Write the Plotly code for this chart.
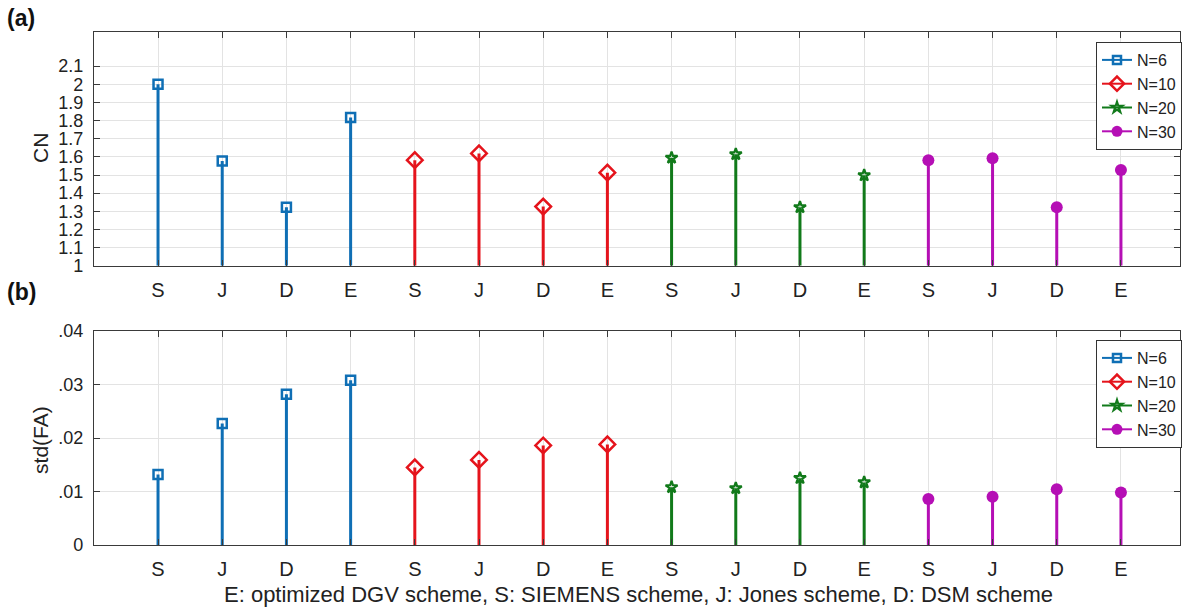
import plotly.graph_objects as go

# ---------------- data ----------------
schemes = ["S", "J", "D", "E"]
groups = ["N=6", "N=10", "N=20", "N=30"]
cn_n6 = [2.00, 1.577, 1.322, 1.817]
cn_n10 = [1.582, 1.619, 1.326, 1.513]
cn_n20 = [1.595, 1.614, 1.322, 1.498]
cn_n30 = [1.581, 1.592, 1.322, 1.527]
std_n6 = [0.0132, 0.0227, 0.0282, 0.0308]
std_n10 = [0.0145, 0.0159, 0.0186, 0.0188]
std_n20 = [0.0108, 0.0106, 0.0125, 0.0117]
std_n30 = [0.0086, 0.0090, 0.0104, 0.0098]
cn_ticks = [1, 1.1, 1.2, 1.3, 1.4, 1.5, 1.6, 1.7, 1.8, 1.9, 2, 2.1]
cn_ticktext = ["1", "1.1", "1.2", "1.3", "1.4", "1.5", "1.6", "1.7", "1.8", "1.9", "2", "2.1"]
std_ticks = [0, 0.01, 0.02, 0.03, 0.04]
std_ticktext = ["0", ".01", ".02", ".03", ".04"]
xlabel = "E: optimized DGV scheme, S: SIEMENS scheme, J: Jones scheme, D: DSM scheme"

cn_data = [cn_n6, cn_n10, cn_n20, cn_n30]
std_data = [std_n6, std_n10, std_n20, std_n30]

# ---------------- style ----------------
colors = ["#0f6fb5", "#e5141c", "#117a1a", "#b50fb5"]
symbols = ["square-open", "diamond-open", "star-open", "circle"]
msizes = [9, 12, 9, 12]
mlw = [2.5, 2.5, 2.2, 0]
FONT = "Liberation Sans Narrow, Liberation Sans, sans-serif"
W, H = 1182, 607
AX = "#3a3a3a"
GRID = "#e3e3e3"

fig = go.Figure()

def add_stems(data, xa, ya, base, legend):
    for g, vals in enumerate(data):
        xs = [4 * g + i + 1 for i in range(len(vals))]
        sx, sy = [], []
        for x, v in zip(xs, vals):
            sx += [x, x, None]
            sy += [base, v, None]
        fig.add_trace(go.Scatter(x=sx, y=sy, mode="lines", xaxis=xa, yaxis=ya,
                                 line=dict(color=colors[g], width=3),
                                 showlegend=False, hoverinfo="skip"))
        fig.add_trace(go.Scatter(x=xs, y=vals, mode="markers", xaxis=xa, yaxis=ya,
                                 marker=dict(symbol=symbols[g], size=msizes[g], color=colors[g],
                                             line=dict(color=colors[g], width=mlw[g])),
                                 showlegend=False))
        fig.add_trace(go.Scatter(x=[None], y=[None], mode="lines+markers", xaxis=xa, yaxis=ya,
                                 name=groups[g], legend=legend,
                                 line=dict(color=colors[g], width=2),
                                 marker=dict(symbol=symbols[g], size=msizes[g] - 1, color=colors[g],
                                             line=dict(color=colors[g], width=mlw[g]))))

add_stems(cn_data, "x", "y", 1, "legend")
add_stems(std_data, "x2", "y2", 0, "legend2")

xdom = [94 / W, 1.0]
top_dom = [1 - 265.7 / H, 1 - 31.7 / H]
bot_dom = [1 - 545 / H, 1 - 331 / H]

xticks = list(range(1, 17))
xtext = schemes * 4

common_x = dict(range=[0, 16.92], tickvals=xticks, ticktext=xtext, ticks="inside", ticklen=6,
                tickcolor=AX, showline=True, linecolor=AX, linewidth=1, mirror="ticks",
                showgrid=True, gridcolor=GRID, gridwidth=1, zeroline=False,
                tickfont=dict(family=FONT, size=20, color="#222"), automargin=False,
                ticklabelstandoff=6)
common_y = dict(ticks="inside", ticklen=6, tickcolor=AX, showline=True, linecolor=AX, linewidth=1,
                mirror="ticks", showgrid=True, gridcolor=GRID, gridwidth=1, zeroline=False,
                tickfont=dict(family=FONT, size=18, color="#222"), automargin=False,
                ticklabelstandoff=6)

legend_common = dict(bgcolor="white", bordercolor="#333", borderwidth=1,
                     font=dict(family=FONT, size=16, color="#222"),
                     xanchor="right", yanchor="top", x=1184 / W, itemwidth=30,
                     tracegroupgap=0)

fig.update_layout(
    width=W, height=H, margin=dict(l=0, r=0, t=0, b=0),
    paper_bgcolor="white", plot_bgcolor="white",
    font=dict(family=FONT),
    xaxis=dict(domain=xdom, anchor="y", **common_x),
    yaxis=dict(domain=top_dom, anchor="x", range=[1, 2.29], tickvals=cn_ticks,
               ticktext=cn_ticktext, **common_y),
    xaxis2=dict(domain=xdom, anchor="y2", **common_x),
    yaxis2=dict(domain=bot_dom, anchor="x2", range=[0, 0.04], tickvals=std_ticks,
                ticktext=std_ticktext, **common_y),
    legend=dict(y=1 - 42 / H, **legend_common),
    legend2=dict(y=1 - 340 / H, **legend_common),
    annotations=[
        dict(text="<b>(a)</b>", x=5 / W, y=1 - 18 / H, xref="paper", yref="paper",
             xanchor="left", yanchor="middle", showarrow=False,
             font=dict(family=FONT, size=23, color="#111")),
        dict(text="<b>(b)</b>", x=5 / W, y=1 - 292 / H, xref="paper", yref="paper",
             xanchor="left", yanchor="middle", showarrow=False,
             font=dict(family=FONT, size=23, color="#111")),
        dict(text="CN", x=40 / W, y=1 - 148 / H, xref="paper", yref="paper", textangle=-90,
             xanchor="center", yanchor="middle", showarrow=False,
             font=dict(family=FONT, size=21, color="#222")),
        dict(text="std(FA)", x=40 / W, y=1 - 440 / H, xref="paper", yref="paper", textangle=-90,
             xanchor="center", yanchor="middle", showarrow=False,
             font=dict(family=FONT, size=21, color="#222")),
        dict(text=xlabel, x=640 / W, y=1 - 594 / H, xref="paper", yref="paper",
             xanchor="center", yanchor="middle", showarrow=False,
             font=dict(family=FONT, size=22, color="#222")),
    ],
)

fig.write_html("out.html")
